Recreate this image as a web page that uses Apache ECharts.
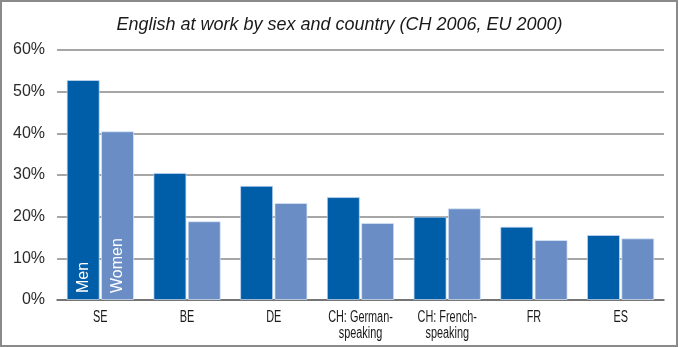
<!DOCTYPE html>
<html>
<head>
<meta charset="utf-8">
<script src="https://cdn.jsdelivr.net/npm/echarts@6/dist/echarts.min.js"></script>
<style>
html,body{margin:0;padding:0;background:#fff;}
#chart{width:679px;height:348px;}
</style>
</head>
<body>
<div id="chart"></div>
<script>
var titleText = 'English at work by sex and country (CH 2006, EU 2000)';
var categories = ['SE', 'BE', 'DE', 'CH: German-\nspeaking', 'CH: French-\nspeaking', 'FR', 'ES'];
var men =   [52.8, 30.5, 27.4, 24.7, 20.0, 17.6, 15.6];
var women = [40.5, 18.9, 23.3, 18.5, 22.0, 14.4, 14.8];
var yTicks = [0, 10, 20, 30, 40, 50, 60];
var seriesNames = ['Men', 'Women'];

var chart = echarts.init(document.getElementById('chart'), null, {renderer: 'canvas'});

function withFirstLabel(values, name) {
  return values.map(function (v, i) {
    if (i !== 0) return v;
    return {
      value: v,
      label: {
        show: true,
        formatter: name,
        position: 'insideBottom',
        rotate: 90,
        align: 'left',
        verticalAlign: 'middle',
        distance: 7,
        color: '#ffffff',
        fontSize: 16,
        fontFamily: 'Liberation Sans'
      }
    };
  });
}

var option = {
  animation: false,
  backgroundColor: '#ffffff',
  title: {
    text: titleText,
    left: 'center',
    top: 11,
    textStyle: {
      fontFamily: 'Liberation Sans',
      fontStyle: 'italic',
      fontWeight: 'normal',
      fontSize: 18,
      color: '#1a1a1a'
    }
  },
  grid: {left: 57, right: 15, top: 50, bottom: 48, containLabel: false},
  xAxis: {
    type: 'category',
    data: categories,
    axisLine: {show: true, lineStyle: {color: '#666', width: 1.5}},
    axisTick: {show: false},
    axisLabel: {show: false}
  },
  yAxis: {
    type: 'value',
    min: yTicks[0],
    max: yTicks[yTicks.length - 1],
    interval: 10,
    axisLine: {show: false},
    axisTick: {show: false},
    splitLine: {show: true, lineStyle: {color: '#888', width: 1.5}},
    axisLabel: {
      margin: 12,
      fontFamily: 'Liberation Sans',
      fontSize: 16,
      color: '#2a2a2a',
      padding: [6, 0, 0, 0],
      formatter: '{value}%'
    }
  },
  series: [
    {
      name: seriesNames[0],
      type: 'bar',
      data: withFirstLabel(men, seriesNames[0]),
      barWidth: 33,
      barGap: '4%',
      itemStyle: {color: '#005DA8', borderColor: 'rgba(200,220,245,0.7)', borderWidth: 1}
    },
    {
      name: seriesNames[1],
      type: 'bar',
      data: withFirstLabel(women, seriesNames[1]),
      barWidth: 33,
      itemStyle: {color: '#6A8DC6', borderColor: 'rgba(220,232,248,0.7)', borderWidth: 1}
    }
  ]
};
chart.setOption(option);

// Category labels in a condensed look, positioned through the category axis scale
var axisY = chart.convertToPixel({yAxisIndex: 0}, yTicks[0]);
var graphics = [
  {
    type: 'rect',
    shape: {x: 1, y: 1, width: 676, height: 345},
    style: {fill: 'none', stroke: '#8a8a8a', lineWidth: 2},
    silent: true
  }
];
categories.forEach(function (c, i) {
  var px = chart.convertToPixel({xAxisIndex: 0}, i);
  graphics.push({
    type: 'text',
    x: px,
    y: axisY + 10,
    scaleX: 0.68,
    silent: true,
    style: {
      text: c,
      fontFamily: 'Liberation Sans',
      fontSize: 16,
      lineHeight: 16,
      fill: '#1a1a1a',
      align: 'center',
      verticalAlign: 'top'
    }
  });
});
chart.setOption({graphic: graphics});
</script>
</body>
</html>
